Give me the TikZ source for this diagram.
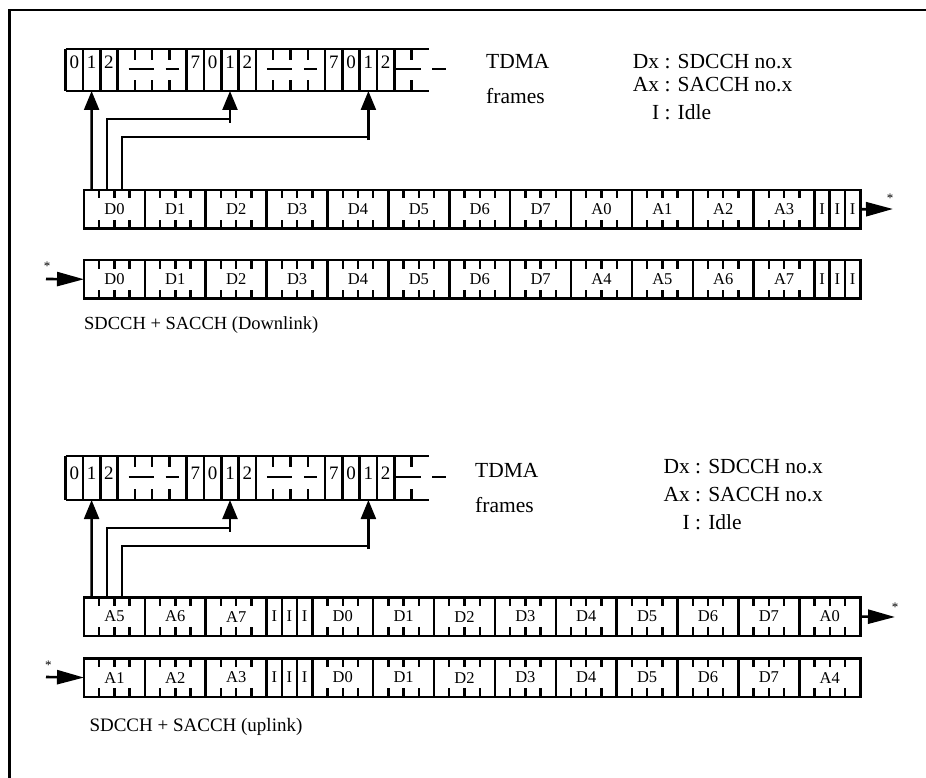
\documentclass[tikz,border=0pt]{standalone}
\usepackage{fontspec}
\setmainfont{Liberation Serif}
\usetikzlibrary{arrows.meta,calc}

\newcommand\qw{15.22}
\newcommand\rowh{38.5}

% slot row: #1 top y, #2 name prefix, #3 list label/quarters
\newcommand\slotrow[3]{%
  \gdef\curx{84}%
  \foreach \lab/\nq [count=\i] in {#3} {%
    \draw[box] (\curx,#1) rectangle ++(\nq*\qw,\rowh);
    \ifnum\nq=4
      \foreach \k in {1,2,3} {
        \draw[tick] (\curx+\k*\qw,#1) -- ++(0,8.5);
        \draw[tick] (\curx+\k*\qw,#1+\rowh) -- ++(0,-8.5);
      }
    \fi
    \node[slotlab] (#2\i) at (\curx+\nq*\qw/2,#1+\rowh/2) {\lab};
    \pgfmathsetmacro\nx{\curx+\nq*\qw}%
    \global\let\curx\nx
  }%
  \coordinate (#2start) at (84,#1+\rowh/2);
  \coordinate (#2end) at (\curx,#1+\rowh/2);
  \coordinate (#2s1) at (84+0.5*\qw,#1);
  \coordinate (#2s2) at (84+1.5*\qw,#1);
  \coordinate (#2s3) at (84+2.5*\qw,#1);
}

% TDMA row: #1 top, #2 height, #3 digit centre y, #4 prefix
\newcommand\tdmarow[4]{%
  \def\tx{65.65}\def\tw{17.3}%
  \draw[box] (\tx,#1) -- ++(21*\tw,0);
  \draw[box] (\tx,#1+#2) -- ++(21*\tw,0);
  \foreach \k in {0,1,2,3,7,8,9,10,11,15,16,17,18,19}
    \draw[box] (\tx+\k*\tw,#1) -- ++(0,#2);
  \foreach \k/\d in {0/0,1/1,2/2,7/7,8/0,9/1,10/2,15/7,16/0,17/1,18/2}
    \node[digit] (#4d\k) at (\tx+\k*\tw+\tw/2,#3) {\d};
  \foreach \k in {4,5,6,12,13,14,20} {
    \draw[tick] (\tx+\k*\tw,#1) -- ++(0,11);
    \draw[tick] (\tx+\k*\tw,#1+#2) -- ++(0,-11);
  }
  \foreach \g in {3,11} {
    \draw[tick] (\tx+\g*\tw+11,#1+#2/2-1) -- ++(25,0);
    \draw[tick] (\tx+\g*\tw+48,#1+#2/2-1) -- ++(13,0);
  }
  \draw[tick] (\tx+19*\tw,#1+#2/2-1) -- ++(27,0);
  \draw[tick] (\tx+19*\tw+38,#1+#2/2-1) -- ++(14,0);
  \coordinate (#4t1) at (\tx+1.5*\tw,#1+#2);
  \coordinate (#4t2) at (\tx+9.5*\tw,#1+#2);
  \coordinate (#4t3) at (\tx+17.5*\tw,#1+#2);
  \coordinate (#4c2) at (\tx+9.5*\tw,#1+#2+28.3);
  \coordinate (#4c3) at (\tx+17.5*\tw,#1+#2+45.7);
}

\begin{document}
\begin{tikzpicture}[x=1pt,y=-1pt,
  box/.style={line width=2.6pt},
  tick/.style={line width=2.4pt},
  conn/.style={line width=2.3pt},
  arr/.style={line width=2.3pt,-{Triangle[length=19pt,width=15pt]}},
  bigarr/.style={line width=2.6pt,-{Triangle[length=27pt,width=14pt]}},
  slotlab/.style={inner sep=0pt,font=\fontsize{16.5}{19}\selectfont},
  digit/.style={inner sep=0pt,font=\fontsize{19}{21}\selectfont},
  legend/.style={inner sep=0pt,anchor=west,font=\fontsize{21.5}{25}\selectfont},
  caption/.style={inner sep=0pt,anchor=west,font=\fontsize{19}{22}\selectfont},
  star/.style={inner sep=0pt,font=\fontsize{13}{14}\selectfont}]
\useasboundingbox (0,0) rectangle (926,778);

% outer frame
\draw[line width=2.2pt] (9.5,778) -- (9.5,10) -- (926,10);

% ===== Downlink =====
\tdmarow{49}{42}{62.7}{ut}
\slotrow{190}{ua}{D0/4,D1/4,D2/4,D3/4,D4/4,D5/4,D6/4,D7/4,A0/4,A1/4,A2/4,A3/4,I/1,I/1,I/1}
\slotrow{260}{ub}{D0/4,D1/4,D2/4,D3/4,D4/4,D5/4,D6/4,D7/4,A4/4,A5/4,A6/4,A7/4,I/1,I/1,I/1}

\draw[arr] (uas1) -- (utt1);
\draw[conn] (uas2) |- (utc2);
\draw[arr] ($(utc2)+(0,3.5)$) -- (utt2);
\draw[conn] (uas3) |- (utc3);
\draw[arr] ($(utc3)+(0,3.5)$) -- (utt3);

\coordinate (uaout) at (893,209);
\draw[bigarr] (uaend) -- (uaout);
\node[star] (uastar) at (890,198) {*};
\coordinate (ubin) at (46,279);
\draw[bigarr] (ubin) -- (ubstart);
\node[star] (ubstar) at (47,266) {*};

\node[legend] (ul1) at (486,61.7) {TDMA};
\node[legend] (ul2) at (486,96) {frames};
\node[legend] (ul3) at (632.7,61.7) {Dx : SDCCH no.x};
\node[legend] (ul4) at (632.7,85) {Ax : SACCH no.x};
\node[legend] (ul5) at (632.7,111.7) {\hphantom{Dx}\llap{I} : Idle};
\node[caption,font=\fontsize{18.5}{22}\selectfont] (ucap) at (84,325) {SDCCH + SACCH (Downlink)};

% ===== Uplink =====
\tdmarow{456}{44}{473}{lt}
\slotrow{597.3}{la}{A5/4,A6/4,A7/4,I/1,I/1,I/1,D0/4,D1/4,D2/4,D3/4,D4/4,D5/4,D6/4,D7/4,A0/4}
\slotrow{658.3}{lb}{A1/4,A2/4,A3/4,I/1,I/1,I/1,D0/4,D1/4,D2/4,D3/4,D4/4,D5/4,D6/4,D7/4,A4/4}

\draw[arr] (las1) -- (ltt1);
\draw[conn] (las2) |- (ltc2);
\draw[arr] ($(ltc2)+(0,3.5)$) -- (ltt2);
\draw[conn] (las3) |- (ltc3);
\draw[arr] ($(ltc3)+(0,3.5)$) -- (ltt3);

\coordinate (laout) at (895,617);
\draw[bigarr] (laend) -- (laout);
\node[star] (lastar) at (895,607) {*};
\coordinate (lbin) at (46,677);
\draw[bigarr] (lbin) -- (lbstart);
\node[star] (lbstar) at (48.3,665) {*};

\node[legend] (ll1) at (475,470) {TDMA};
\node[legend] (ll2) at (475,505) {frames};
\node[legend] (ll3) at (663.3,466.7) {Dx : SDCCH no.x};
\node[legend] (ll4) at (663.3,495) {Ax : SACCH no.x};
\node[legend] (ll5) at (663.3,521.7) {\hphantom{Dx}\llap{I} : Idle};
\node[caption] (lcap) at (89.3,726.7) {SDCCH + SACCH (uplink)};
\end{tikzpicture}
\end{document}
